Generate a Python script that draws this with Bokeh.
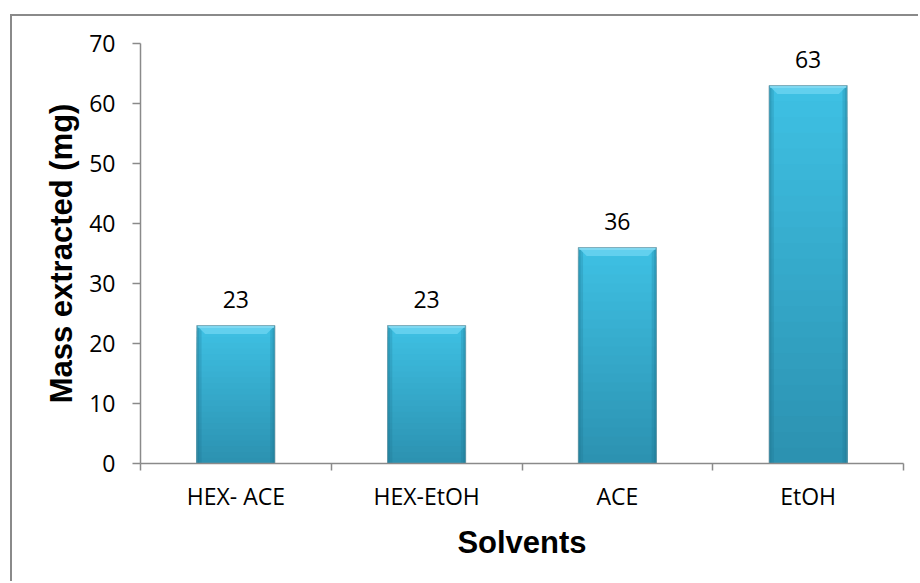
from bokeh.plotting import figure
from bokeh.models import Range1d, FixedTicker, LabelSet, ColumnDataSource
from bokeh.core.properties import value
from bokeh.embed import file_html
from bokeh.resources import INLINE

# Extraction results per solvent system
solvents = ["HEX- ACE", "HEX-EtOH", "ACE", "EtOH"]
mass = [23, 23, 36, 63]
y_ticks = [0, 10, 20, 30, 40, 50, 60, 70]

xs = [i + 0.5 for i in range(len(solvents))]
BAR_W = 0.41

p = figure(width=908, height=567,
           x_range=Range1d(0, len(solvents)), y_range=Range1d(0, 70),
           output_backend="svg", toolbar_location=None,
           min_border_left=128, min_border_top=27,
           min_border_right=17, min_border_bottom=120)
p.styles = {"margin-left": "10px", "margin-top": "14px",
            "border-left": "2px solid #8a8a8a", "border-top": "2px solid #8a8a8a"}
p.outline_line_color = None
p.xgrid.grid_line_color = None
p.ygrid.grid_line_color = None
p.background_fill_color = "white"
p.border_fill_color = "white"

# Vertical shading of each bar: lighter cyan at the top, deeper teal at the base.
# Each layer runs down to zero so the stacked layers leave no seams.
def mix(c1, c2, t):
    a = [int(c1[i:i + 2], 16) for i in (1, 3, 5)]
    b = [int(c2[i:i + 2], 16) for i in (1, 3, 5)]
    return "#%02x%02x%02x" % tuple(round(a[k] + (b[k] - a[k]) * t) for k in range(3))

TOP_C, BOT_C = "#3ec0e3", "#2c92b1"
N = 24
for k in range(N):
    tops = [m * (N - k) / N for m in mass]
    p.vbar(x=xs, top=tops, bottom=0, width=BAR_W,
           fill_color=mix(TOP_C, BOT_C, k / (N - 1)), line_color=None)

# darker side edges
for off, w, a in [(BAR_W / 2 - 0.0125, 0.025, 0.22), (BAR_W / 2 - 0.006, 0.012, 0.25)]:
    p.vbar(x=[x - off for x in xs], top=mass, width=w, fill_color="#1d6f88",
           fill_alpha=a, line_color=None)
    p.vbar(x=[x + off for x in xs], top=mass, width=w, fill_color="#1d6f88",
           fill_alpha=a, line_color=None)

# bevelled top edge
bev_h, bev_d = 1.4, 0.044
px, py = [], []
for x, m in zip(xs, mass):
    l, r = x - BAR_W / 2, x + BAR_W / 2
    px.append([l, r, r - bev_d, l + bev_d])
    py.append([m, m, m - bev_h, m - bev_h])
p.patches(px, py, fill_color="#62d0ee", line_color=None)
p.vbar(x=xs, top=mass, bottom=[m - 0.4 for m in mass], width=BAR_W - 0.01,
       fill_color="#8cdcf2", fill_alpha=0.7, line_color=None)

# thin outline
p.vbar(x=xs, top=mass, width=BAR_W, fill_color=None,
       line_color="#7f9ea8", line_alpha=0.7, line_width=1)

# value labels
src = ColumnDataSource(dict(x=xs, mass=mass, label=[str(m) for m in mass]))
p.add_layout(LabelSet(x="x", y="mass", text="label", source=src, y_offset=18,
                      text_align="center", text_baseline="alphabetic",
                      text_font=value("Open Sans"), text_font_size="23px",
                      text_color="black"))

AX = "#8a8a8a"
TICK_FONT = "Open Sans"

ya = p.yaxis[0]
ya.ticker = FixedTicker(ticks=y_ticks, minor_ticks=[])
ya.axis_line_color = AX
ya.axis_line_width = 1.5
ya.major_tick_line_color = AX
ya.major_tick_line_width = 1.5
ya.major_tick_out = 8
ya.major_tick_in = 0
ya.minor_tick_line_color = None
ya.major_label_standoff = 17
ya.major_label_text_font = TICK_FONT
ya.major_label_text_font_size = "23px"
ya.major_label_text_color = "black"
ya.axis_label = "Mass extracted (mg)"
ya.axis_label_text_font = "Liberation Sans"
ya.axis_label_text_font_style = "bold"
ya.axis_label_text_font_size = "31px"
ya.axis_label_text_color = "black"
ya.axis_label_standoff = 7

xa = p.xaxis[0]
xa.ticker = FixedTicker(ticks=xs, minor_ticks=list(range(len(solvents) + 1)))
xa.major_label_overrides = {x: s for x, s in zip(xs, solvents)}
xa.axis_line_color = AX
xa.axis_line_width = 1.5
xa.major_tick_line_color = None
xa.minor_tick_line_color = AX
xa.minor_tick_line_width = 1.5
xa.minor_tick_out = 7
xa.minor_tick_in = 0
xa.major_label_standoff = 9
xa.major_label_text_font = TICK_FONT
xa.major_label_text_font_size = "23px"
xa.major_label_text_color = "black"
xa.axis_label = "Solvents"
xa.axis_label_text_font = "Liberation Sans"
xa.axis_label_text_font_style = "bold"
xa.axis_label_text_font_size = "31px"
xa.axis_label_text_color = "black"
xa.axis_label_standoff = 10

open("out.html", "w").write(file_html(p, INLINE))
